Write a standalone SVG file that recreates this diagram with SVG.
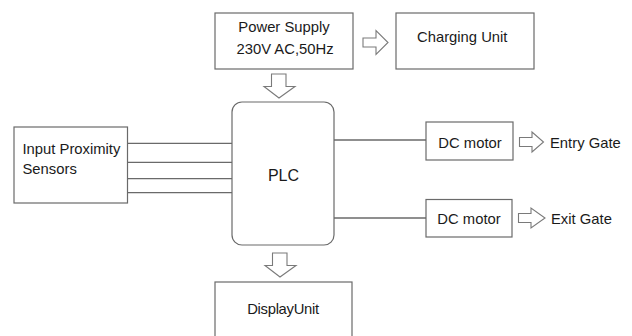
<svg xmlns="http://www.w3.org/2000/svg" width="632" height="336" viewBox="0 0 632 336">
<style>
.box{fill:#fff;stroke:#6a6a6a;stroke-width:1.2}
.arr{fill:#fff;stroke:#7a7a7a;stroke-width:1.1;stroke-linejoin:miter}
.ln{stroke:#6a6a6a;stroke-width:1.3;fill:none}
text{font-family:"Liberation Sans",Arial,sans-serif;font-size:14.8px;fill:#1a1a1a}
</style>
<rect width="632" height="336" fill="#fff"/>
<g id="connectors">
<line class="ln" x1="127" y1="143.3" x2="232" y2="143.3"/>
<line class="ln" x1="127" y1="162.3" x2="232" y2="162.3"/>
<line class="ln" x1="127" y1="178.7" x2="232" y2="178.7"/>
<line class="ln" x1="127" y1="192.7" x2="232" y2="192.7"/>
<line class="ln" x1="334" y1="140" x2="426" y2="140"/>
<line class="ln" x1="334" y1="218" x2="426" y2="218"/>
<path class="arr" d="M363,38 H376 V30.5 L388,42.5 L376,54.5 V47 H363 Z"/>
<path class="arr" d="M271.5,74 H286 V86.5 H295 L279,98 L264,86.5 H271.5 Z"/>
<path class="arr" d="M272.5,253 H287 V265.5 H296 L280,277 L265,265.5 H272.5 Z"/>
<path class="arr" d="M519.5,137.5 H532 V132 L543.5,142 L532,152 V146.5 H519.5 Z"/>
<path class="arr" d="M518.5,213.5 H531 V208 L545,218 L531,228 V222.5 H518.5 Z"/>
</g>
<g id="power">
<rect class="box" x="215" y="13" width="138" height="56"/>
<text x="284" y="32" text-anchor="middle">Power Supply</text>
<text x="285" y="54" text-anchor="middle">230V AC,50Hz</text>
</g>
<g id="charging">
<rect class="box" x="396" y="13" width="138" height="56"/>
<text x="417" y="42">Charging Unit</text>
</g>
<g id="input">
<rect class="box" x="14" y="127" width="113.5" height="76"/>
<text x="22.5" y="154">Input Proximity</text>
<text x="22.5" y="174">Sensors</text>
</g>
<g id="plc">
<rect class="box" x="232" y="102" width="102" height="143" rx="10" ry="10"/>
<text x="283.5" y="181" text-anchor="middle" style="font-size:16px">PLC</text>
</g>
<g id="motor1">
<rect class="box" x="426" y="122" width="87" height="38"/>
<text x="470" y="148" text-anchor="middle">DC motor</text>
</g>
<g id="entry">
<text x="550" y="148">Entry Gate</text>
</g>
<g id="motor2">
<rect class="box" x="426" y="199.5" width="86" height="37.5"/>
<text x="469" y="223.5" text-anchor="middle">DC motor</text>
</g>
<g id="exit">
<text x="551" y="223.5">Exit Gate</text>
</g>
<g id="display">
<rect class="box" x="215" y="282" width="137" height="70"/>
<text x="283" y="314" text-anchor="middle" letter-spacing="-0.3">DisplayUnit</text>
</g>
</svg>
